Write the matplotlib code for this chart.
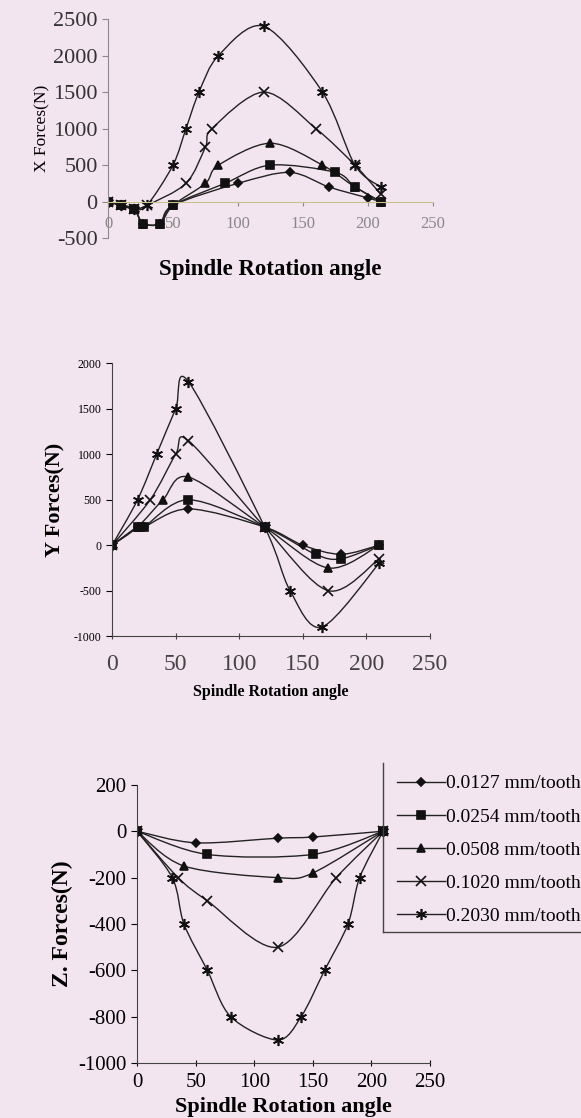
import matplotlib.pyplot as plt
import numpy as np
from matplotlib.path import Path
from matplotlib.patches import PathPatch
from matplotlib.lines import Line2D

plt.rcParams['font.family'] = ['Liberation Serif', 'DejaVu Serif']
plt.rcParams['axes.unicode_minus'] = False

labels = ['0.0127 mm/tooth', '0.0254 mm/tooth', '0.0508 mm/tooth',
          '0.1020 mm/tooth', '0.2030 mm/tooth']

# X forces (angle, force) per feed
x_ang = [[0, 10, 20, 27, 40, 50, 100, 140, 170, 200, 210],
         [0, 10, 20, 27, 40, 50, 90, 125, 175, 190, 210],
         [0, 10, 20, 27, 40, 50, 75, 85, 125, 165, 190, 210],
         [0, 10, 20, 30, 60, 75, 80, 120, 160, 190, 210],
         [0, 10, 20, 30, 50, 60, 70, 85, 120, 165, 190, 210]]
x_force = [[0, -50, -100, -300, -300, -50, 250, 400, 200, 50, 0],
           [0, -50, -100, -300, -300, -50, 250, 500, 400, 200, 0],
           [0, -50, -100, -300, -300, -50, 250, 500, 800, 500, 200, 0],
           [0, -50, -100, -50, 250, 750, 1000, 1500, 1000, 500, 100],
           [0, -50, -100, -50, 500, 1000, 1500, 2000, 2400, 1500, 500, 200]]

# Y forces
y_ang = [[0, 20, 25, 60, 120, 150, 180, 210],
         [0, 20, 25, 60, 120, 160, 180, 210],
         [0, 20, 40, 60, 120, 170, 210],
         [0, 30, 50, 60, 120, 170, 210],
         [0, 20, 35, 50, 60, 120, 140, 165, 210]]
y_force = [[0, 200, 200, 400, 200, 0, -100, 0],
           [0, 200, 200, 500, 200, -100, -150, 0],
           [0, 200, 500, 750, 200, -250, 0],
           [0, 500, 1000, 1150, 200, -500, -150],
           [0, 500, 1000, 1500, 1800, 200, -500, -900, -200]]

# Z forces
z_ang = [[0, 50, 120, 150, 210],
         [0, 60, 150, 210],
         [0, 40, 120, 150, 210],
         [0, 35, 60, 120, 170, 210],
         [0, 30, 40, 60, 80, 120, 140, 160, 180, 190, 210]]
z_force = [[0, -50, -30, -25, 0],
           [0, -100, -100, 0],
           [0, -150, -200, -180, 0],
           [0, -200, -300, -500, -200, 0],
           [0, -200, -400, -600, -800, -900, -800, -600, -400, -200, 0]]

markers = ['D', 's', '^', 'x', (6, 2, 0)]
msizes = [4.5, 5.5, 5.5, 7, 8]


def smooth_path(xs, ys):
    # Excel-like smoothed line: cubic bezier segments (Catmull-Rom control points)
    p = np.column_stack([xs, ys]).astype(float)
    n = len(p)
    verts = [p[0]]
    codes = [Path.MOVETO]
    for i in range(n - 1):
        p0 = p[i - 1] if i > 0 else p[i]
        p3 = p[i + 2] if i + 2 < n else p[i + 1]
        c1 = p[i] + (p[i + 1] - p0) / 6.5
        c2 = p[i + 1] - (p3 - p[i]) / 6.5
        verts += [c1, c2, p[i + 1]]
        codes += [Path.CURVE4] * 3
    return Path(verts, codes)


def draw(ax, angs, forces):
    for xs, ys, m, ms in zip(angs, forces, markers, msizes):
        ax.add_patch(PathPatch(smooth_path(xs, ys), facecolor='none',
                               edgecolor='#222222', lw=1.0))
        ax.plot(xs, ys, linestyle='none', marker=m, ms=ms, color='#111111',
                mew=1.2)


bg = '#f3e5ef'
fig = plt.figure(figsize=(5.81, 11.18), dpi=100, facecolor=bg)

# ---- X forces
ax1 = fig.add_axes([0.186, 0.787, 0.559, 0.196], facecolor='none')
draw(ax1, x_ang, x_force)
ax1.set_xlim(0, 250)
ax1.set_ylim(-500, 2500)
ax1.set_yticks(np.arange(-500, 2501, 500))
ax1.set_xticks(np.arange(0, 251, 50))
ax1.spines[['top', 'right']].set_visible(False)
ax1.spines['bottom'].set_position(('data', 0))
ax1.spines['bottom'].set_color('#c9c28a')
ax1.spines['left'].set_color('#8a8a8a')
ax1.tick_params(axis='y', labelsize=16, length=4, color='#8a8a8a', colors='#333333')
ax1.tick_params(axis='x', labelsize=12, length=3, pad=7, colors='#888888')
ax1.set_ylabel('X Forces(N)', fontsize=12.5, labelpad=2)
ax1.set_xlabel('Spindle Rotation angle', fontsize=16.5, fontweight='bold', labelpad=20)

# ---- Y forces
ax2 = fig.add_axes([0.193, 0.431, 0.547, 0.244], facecolor='none')
draw(ax2, y_ang, y_force)
ax2.set_xlim(0, 250)
ax2.set_ylim(-1000, 2000)
ax2.set_yticks(np.arange(-1000, 2001, 500))
ax2.set_xticks(np.arange(0, 251, 50))
ax2.spines[['top', 'right']].set_visible(False)
ax2.spines[['left', 'bottom']].set_color('#444444')
ax2.tick_params(axis='y', labelsize=8.5, length=4)
ax2.tick_params(axis='x', labelsize=17, length=4, pad=11, direction='inout',
                colors='#444444')
ax2.set_ylabel('Y Forces(N)', fontsize=16, fontweight='bold', labelpad=6)
ax2.set_xlabel('Spindle Rotation angle', fontsize=11.5, fontweight='bold', labelpad=6)

# ---- Z forces
ax3 = fig.add_axes([0.236, 0.049, 0.504, 0.249], facecolor='none')
draw(ax3, z_ang, z_force)
ax3.set_xlim(0, 250)
ax3.set_ylim(-1000, 200)
ax3.set_yticks(np.arange(-1000, 201, 200))
ax3.set_xticks(np.arange(0, 251, 50))
ax3.spines[['top', 'right']].set_visible(False)
ax3.spines[['left', 'bottom']].set_color('#444444')
ax3.tick_params(axis='y', labelsize=15, length=4)
ax3.tick_params(axis='x', labelsize=15, length=4, pad=5, direction='inout')
ax3.set_ylabel('Z. Forces(N)', fontsize=17, fontweight='bold', labelpad=4)
ax3.set_xlabel('Spindle Rotation angle', fontsize=16, fontweight='bold', labelpad=4)

handles = [Line2D([], [], color='#222222', lw=1.0, marker=m, ms=ms, mew=1.2,
                  markerfacecolor='#111111', markeredgecolor='#111111')
           for m, ms in zip(markers, msizes)]
fig.legend(handles, labels, loc='upper left', bbox_to_anchor=(0.683, 0.307),
           bbox_transform=fig.transFigure, frameon=False, fontsize=14,
           handlelength=2.5, handletextpad=0.05, labelspacing=0.8,
           borderpad=0, borderaxespad=0)
fig.add_artist(Line2D([0.659, 0.659], [0.166, 0.3175], transform=fig.transFigure,
                      color='#444444', lw=1.0))
fig.add_artist(Line2D([0.659, 1.0], [0.166, 0.166], transform=fig.transFigure,
                      color='#444444', lw=1.0))

fig.savefig('out.png', dpi=100, facecolor=bg)
